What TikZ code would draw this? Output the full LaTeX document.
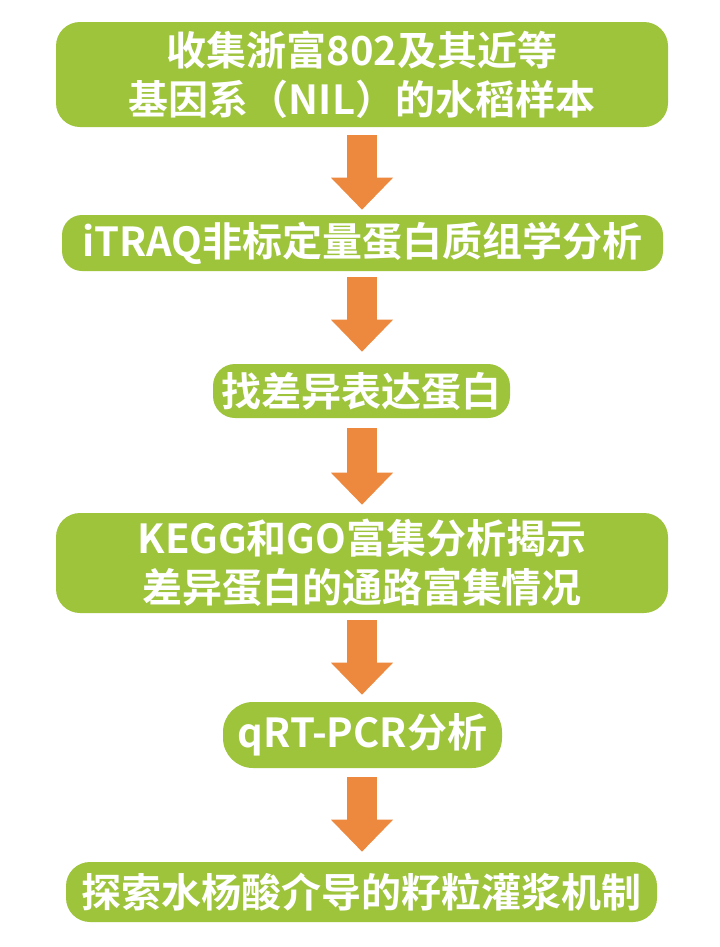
\documentclass[tikz,border=0pt]{standalone}
\usepackage{fontspec}
\newfontfamily\cjk{Noto Sans CJK SC}[UprightFont=* Bold]
\usetikzlibrary{arrows.meta}
\definecolor{boxgreen}{RGB}{158,196,60}
\definecolor{arroworange}{RGB}{237,137,62}
\tikzset{
  stepbox/.style={fill=boxgreen, draw=none, text=white, align=center, inner sep=0pt,
    font=\cjk\fontsize{30pt}{36.5pt}\selectfont},
  flowarrow/.style={draw=arroworange, line width=22.5pt,
    -{Triangle[width=45pt,length=24pt]}}
}
\begin{document}
\begin{tikzpicture}[x=0.75pt,y=-0.75pt]
\fill[white] (0,0) rectangle (720,947);
\useasboundingbox (0,0) rectangle (720,947);
\node[stepbox, minimum width=459pt, minimum height=78.75pt, rounded corners=18pt] (b1) at (362,74.5)
  {收集浙富802及其近等\\基因系（NIL）的水稻样本};
\node[stepbox, minimum width=450.75pt, minimum height=42pt, rounded corners=15pt] (b2) at (362.5,243)
  {iTRAQ非标定量蛋白质组学分析};
\node[stepbox, minimum width=222.75pt, minimum height=40.5pt, rounded corners=16.5pt] (b3) at (361.5,391)
  {找差异表达蛋白};
\node[stepbox, minimum width=459pt, minimum height=75pt, rounded corners=18pt] (b4) at (362,563)
  {KEGG和GO富集分析揭示\\差异蛋白的通路富集情况};
\node[stepbox, minimum width=209.25pt, minimum height=49.5pt, rounded corners=22.5pt] (b5) at (362.5,735)
  {qRT-PCR分析};
\node[stepbox, minimum width=443.25pt, minimum height=45pt, rounded corners=18pt] (b6) at (361.5,892)
  {探索水杨酸介导的籽粒灌浆机制};
\draw[flowarrow, shorten <=6pt, shorten >=3.75pt] (b1.south) -- (b1.south |- b2.north);
\draw[flowarrow, shorten <=4.5pt, shorten >=9pt] (b1.south |- b2.south) -- (b1.south |- b3.north);
\draw[flowarrow, shorten <=7.5pt, shorten >=6pt] (b1.south |- b3.south) -- (b1.south |- b4.north);
\draw[flowarrow, shorten <=5.25pt, shorten >=5.25pt] (b4.south) -- (b4.south |- b5.north);
\draw[flowarrow, shorten <=6.75pt, shorten >=7.5pt] (b4.south |- b5.south) -- (b4.south |- b6.north);
\end{tikzpicture}
\end{document}
